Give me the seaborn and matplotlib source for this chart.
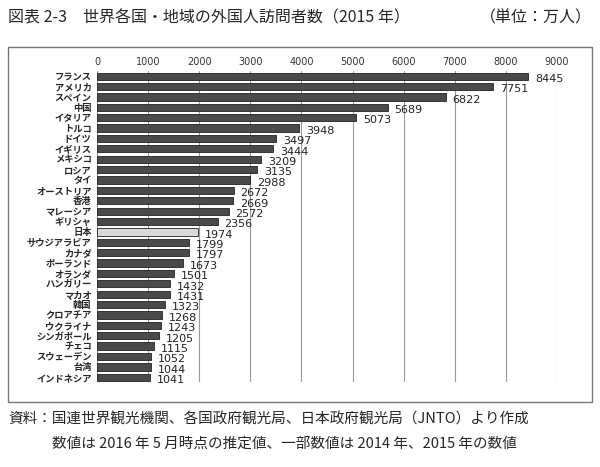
import matplotlib.pyplot as plt
import matplotlib.patches as mpatches
import seaborn as sns
import pandas as pd

countries = ['フランス', 'アメリカ', 'スペイン', '中国', 'イタリア', 'トルコ', 'ドイツ',
             'イギリス', 'メキシコ', 'ロシア', 'タイ', 'オーストリア', '香港', 'マレーシア',
             'ギリシャ', '日本', 'サウジアラビア', 'カナダ', 'ポーランド', 'オランダ',
             'ハンガリー', 'マカオ', '韓国', 'クロアチア', 'ウクライナ', 'シンガポール',
             'チェコ', 'スウェーデン', '台湾', 'インドネシア']
visitors = [8445, 7751, 6822, 5689, 5073, 3948, 3497, 3444, 3209, 3135, 2988, 2672,
            2669, 2572, 2356, 1974, 1799, 1797, 1673, 1501, 1432, 1431, 1323, 1268,
            1243, 1205, 1115, 1052, 1044, 1041]
ticks = [0, 1000, 2000, 3000, 4000, 5000, 6000, 7000, 8000, 9000]

title = '図表 2-3　世界各国・地域の外国人訪問者数（2015 年）'
unit = '（単位：万人）'
note1 = '資料：国連世界観光機関、各国政府観光局、日本政府観光局（JNTO）より作成'
note2 = '数値は 2016 年 5 月時点の推定値、一部数値は 2014 年、2015 年の数値'

sns.set_style('white')
plt.rcParams['font.family'] = ['Noto Sans CJK JP', 'DejaVu Sans']

df = pd.DataFrame({'国': countries, '訪問者数': visitors})
colors = {c: ('#d9d9d9' if c == '日本' else '#4a4a4a') for c in countries}

fig = plt.figure(figsize=(6, 4.67), dpi=100)
ax = fig.add_axes([0.162, 0.181, 0.766, 0.667])

sns.barplot(data=df, x='訪問者数', y='国', hue='国', palette=colors, legend=False,
            width=0.7, edgecolor='#222222', linewidth=0.6, ax=ax, zorder=3)

# value labels, a touch below bar centre like the original
for p in ax.patches:
    w = p.get_width()
    ax.annotate(f'{int(round(w))}', (w, p.get_y() + p.get_height() / 2),
                xytext=(5, -2), textcoords='offset points', va='center', ha='left',
                fontsize=8, color='#222222', family='DejaVu Sans')

ax.set_xlim(0, 9000)
ax.set_xticks(ticks)
ax.xaxis.tick_top()
ax.tick_params(axis='x', length=0, labelsize=7, pad=3, labelcolor='#333333')
for lbl in ax.get_xticklabels():
    lbl.set_family('DejaVu Sans')
ax.tick_params(axis='y', length=0, labelsize=6.7, pad=4)
for lbl in ax.get_yticklabels():
    lbl.set_fontweight('bold')
ax.grid(axis='x', color='#999999', linewidth=0.8, zorder=0)
ax.set_xlabel('')
ax.set_ylabel('')
for s in ax.spines.values():
    s.set_visible(False)

# outer frame
frame = mpatches.Rectangle((8 / 600, 1 - 402 / 467), 584 / 600, 355 / 467,
                           transform=fig.transFigure, fill=False,
                           edgecolor='#777777', linewidth=1.0)
fig.patches.append(frame)

fig.text(8 / 600, 1 - 18 / 467, title, fontsize=11.5, va='center', ha='left')
fig.text(592 / 600, 1 - 18 / 467, unit, fontsize=11.5, va='center', ha='right')
fig.text(8 / 600, 1 - 420 / 467, note1, fontsize=10.5, va='center', ha='left')
fig.text(52 / 600, 1 - 444 / 467, note2, fontsize=10.5, va='center', ha='left')

fig.savefig('out.png', dpi=100)
